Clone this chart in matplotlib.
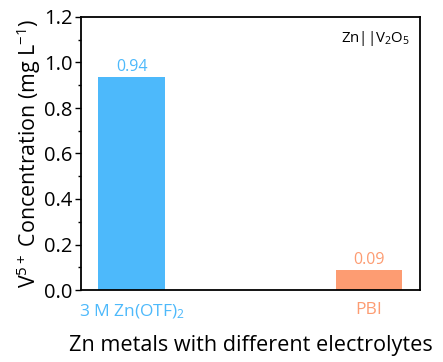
import matplotlib
matplotlib.use("Agg")
import matplotlib.pyplot as plt
from matplotlib.ticker import MultipleLocator

plt.rcParams['font.family'] = ['Open Sans', 'DejaVu Sans']
plt.rcParams['mathtext.fontset'] = 'custom'
plt.rcParams['mathtext.rm'] = 'Open Sans'
plt.rcParams['mathtext.it'] = 'Open Sans'

categories = ['3 M Zn(OTF)$_2$', 'PBI']
values = [0.935, 0.088]
value_labels = ['0.94', '0.09']
colors = ['#4db9fb', '#fd9c72']

fig = plt.figure(figsize=(4.43, 3.62), dpi=100)
ax = fig.add_axes([81/443, 1-290/362, (420-81)/443, (290-17)/362])

x = list(range(len(categories)))
ax.bar(x, values, width=0.28, color=colors)
for xi, v, lab, c in zip(x, values, value_labels, colors):
    ax.text(xi, v + 0.01, lab, ha='center', va='bottom', color=c, fontsize=11.5)

ax.set_xlim(-0.213, 1.215)
ax.set_ylim(0, 1.2)
ax.yaxis.set_major_locator(MultipleLocator(0.2))
ax.yaxis.set_minor_locator(MultipleLocator(0.1))
ax.set_yticklabels([f'{t:.1f}' for t in ax.get_yticks()])
ax.tick_params(axis='y', which='major', length=4, width=1, labelsize=14.5, pad=2)
ax.tick_params(axis='y', which='minor', length=2, width=1)
ax.set_xticks(x)
ax.set_xticklabels(categories, fontsize=12.5)
ax.tick_params(axis='x', length=0, pad=9)
for t, c in zip(ax.get_xticklabels(), colors):
    t.set_color(c)
for s in ax.spines.values():
    s.set_linewidth(1.3)

ax.set_xlabel('Zn metals with different electrolytes', fontsize=15.6, labelpad=10)
ax.set_ylabel('V$^{5+}$ Concentration (mg L$^{-1}$)', fontsize=15.4, labelpad=1)
ax.text(0.97, 0.955, 'Zn||V$_2$O$_5$', transform=ax.transAxes, ha='right', va='top', fontsize=10.8)

fig.savefig('out.png', dpi=100)
